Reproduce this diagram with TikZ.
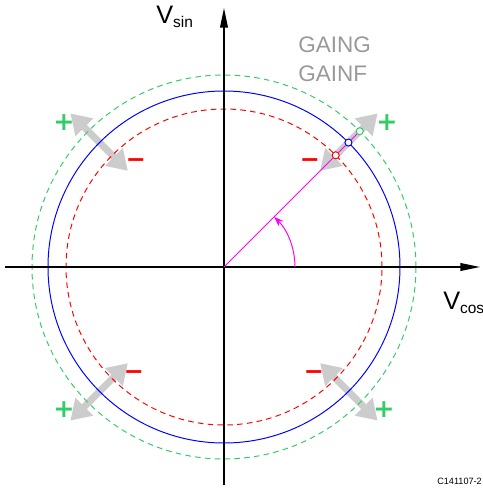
\documentclass[tikz,border=0pt]{standalone}
\usepackage{fontspec}
\setmainfont{Liberation Sans}
\newfontfamily\signfont{DejaVu Sans}
\usetikzlibrary{arrows.meta}

\definecolor{sigred}{RGB}{255,0,0}
\definecolor{siggreen}{RGB}{51,204,102}
\definecolor{sigblue}{RGB}{0,0,255}
\definecolor{sigmag}{RGB}{255,0,255}
\definecolor{sigtip}{RGB}{204,204,204}
\definecolor{labgray}{RGB}{153,153,153}

\begin{document}
\begin{tikzpicture}[
    >=Stealth,
    axis/.style={line width=1pt, -{Triangle[length=14pt,width=5.5pt]}},
    trimarrow/.style={sigtip, line width=5pt, {Triangle[length=14pt,width=17pt]}-{Triangle[length=14pt,width=17pt]}},
    ring/.style={line width=0.7pt},
    dashring/.style={line width=0.7pt, dash pattern=on 4pt off 3pt},
    dot/.style={circle, draw=#1, fill=white, line width=0.7pt, minimum size=5pt, inner sep=0pt},
    possign/.style={text=siggreen, font=\signfont\bfseries\fontsize{18}{18}\selectfont, inner sep=0pt},
    negsign/.style={text=sigred, font=\signfont\bfseries\fontsize{17}{17}\selectfont, inner sep=0pt},
    axlabel/.style={anchor=base west, inner sep=0pt, font=\fontsize{18}{18}\selectfont},
    gainlabel/.style={anchor=base west, inner sep=0pt, text=labgray, font=\fontsize{16}{16}\selectfont}
  ]
  \useasboundingbox (-5.6,-5.525) rectangle (6.475,6.675);
  \coordinate (o) at (0,0);
  \coordinate (xl) at (-5.475,0);
  \coordinate (xr) at (6.4,0);
  \coordinate (yb) at (0,-5.45);
  \coordinate (yt) at (0,6.475);
  \coordinate (ax) at (1.775,0);

  % gain trim directions
  \foreach \a in {45,135,225,315}
    \draw[trimarrow] (\a:3.4) -- (\a:5.43);

  \draw[ring, sigblue] (o) circle[radius=4.4];
  \draw[dashring, sigred] (o) circle[radius=3.95];
  \draw[dashring, siggreen] (o) circle[radius=4.8];

  \draw[axis] (xl) -- (xr);
  \draw[axis] (yb) -- (yt);

  \node[dot=sigred] (pr) at (45:3.95) {};
  \node[dot=sigblue] (pb) at (45:4.4) {};
  \node[dot=siggreen] (pg) at (45:4.8) {};
  \draw[sigmag, line width=0.7pt] (o) -- (pr);
  \draw[sigmag, line width=0.7pt] (pr) -- (pb);
  \draw[sigmag, line width=0.7pt] (pb) -- (pg);
  \draw[sigmag, line width=0.7pt, -{Stealth[length=7pt,width=5pt]}] (ax) arc[start angle=0, end angle=45, radius=1.775];

  \node[possign] (p1) at (-4.0,3.6) {+};
  \node[negsign] (m1) at (-2.2,2.6) {−};
  \node[negsign] (m2) at (2.15,2.6) {−};
  \node[possign] (p2) at (4.075,3.6) {+};
  \node[negsign] (m3) at (2.25,-2.7) {−};
  \node[possign] (p3) at (4.0,-3.575) {+};
  \node[negsign] (m4) at (-2.25,-2.7) {−};
  \node[possign] (p4) at (-4.0,-3.575) {+};

  \node[axlabel] (vsin) at (-1.7,6.1) {V\raisebox{-3.5pt}{\fontsize{11}{11}\selectfont sin}};
  \node[axlabel] (vcos) at (5.475,-1.05) {V\raisebox{-3pt}{\fontsize{11}{11}\selectfont cos}};
  \node[gainlabel] (gaing) at (1.85,5.36) {GAING};
  \node[gainlabel] (gainf) at (1.85,4.65) {GAINF};
  \node[anchor=base west, inner sep=0pt, font=\fontsize{6.5}{6.5}\selectfont] (code) at (5.325,-5.425) {C141107-2};
\end{tikzpicture}
\end{document}
